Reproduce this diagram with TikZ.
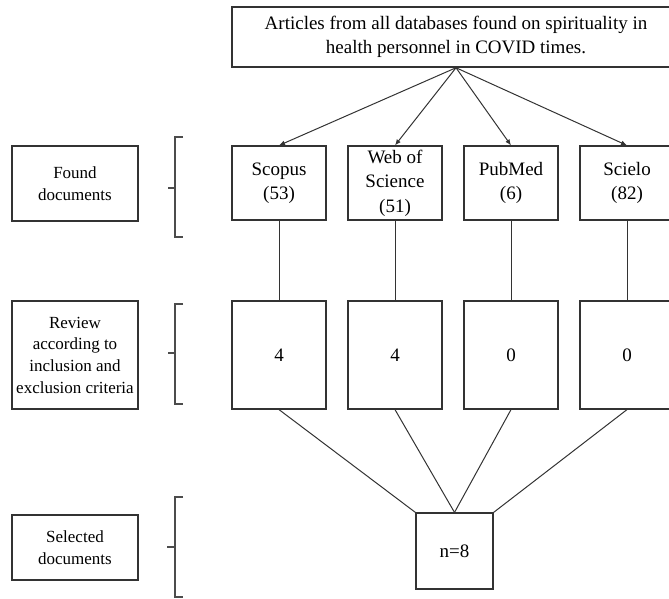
\documentclass[tikz,border=0pt]{standalone}
\usepackage{fontspec}
\setmainfont{Liberation Serif}
\usetikzlibrary{arrows.meta}

\begin{document}
\begin{tikzpicture}[x=1pt,y=-1pt,
        box/.style={draw=black!80, line width=1.2pt, inner sep=0pt, align=center,
            font=\fontsize{19}{24.5}\selectfont},
        side/.style={box, minimum width=126pt, font=\fontsize{17}{21.7}\selectfont},
        db/.style={box, minimum width=94pt, minimum height=74pt},
        rv/.style={box, minimum width=94pt, minimum height=108pt},
        brace/.style={draw=black!70, line width=1.2pt},
        link/.style={draw=black!80, line width=1pt},
        arr/.style={link, -{Latex[length=6pt,width=5pt]}}]
        \clip (0,0) rectangle (669,598);

        % Top box
        \node[box, line width=1.5pt, minimum width=448pt, minimum height=60pt] (top) at (456,37)
            {Articles from all databases found on spirituality in\\health personnel in COVID times.};

        % Found documents
        \node[side, minimum height=75pt] (found) at (75,183.5) {Found\\documents};
        \draw[brace] (183,137) -- (175,137) -- (175,237) -- (183,237) (175,188) -- (168,188);
        \node[db] (scopus) at (279,183) {Scopus\\(53)};
        \node[db] (wos) at (395,183) {Web of\\Science\\(51)};
        \node[db] (pubmed) at (511,183) {PubMed\\(6)};
        \node[db] (scielo) at (627,183) {Scielo\\(82)};

        % Review
        \node[side, minimum height=108pt] (review) at (75,355)
            {Review\\according to\\inclusion and\\exclusion criteria};
        \draw[brace] (183,304) -- (175,304) -- (175,404) -- (183,404) (175,353) -- (168,353);
        \node[rv] (rscopus) at (279,355) {4};
        \node[rv] (rwos) at (395,355) {4};
        \node[rv] (rpubmed) at (511,355) {0};
        \node[rv] (rscielo) at (627,355) {0};

        % Selected documents
        \node[side, minimum height=65pt] (selected) at (75,547.5) {Selected\\documents};
        \draw[brace] (183,497) -- (175,497) -- (175,597) -- (183,597) (175,547) -- (167,547);
        \node[box, minimum width=77pt, minimum height=76pt] (total) at (454.5,551) {n=8};

        \draw[arr] (top.south) -- (scopus.north);
        \draw[arr] (top.south) -- (wos.north);
        \draw[arr] (top.south) -- (pubmed.north);
        \draw[arr] (top.south) -- (scielo.north);

        \draw[link] (scopus) -- (rscopus);
        \draw[link] (wos) -- (rwos);
        \draw[link] (pubmed) -- (rpubmed);
        \draw[link] (scielo) -- (rscielo);

        \draw[link] (rscopus.south) -- (total.north west);
        \draw[link] (rwos.south) -- (total.north);
        \draw[link] (rpubmed.south) -- (total.north);
        \draw[link] (rscielo.south) -- (total.north east);
    \end{tikzpicture}
\end{document}
